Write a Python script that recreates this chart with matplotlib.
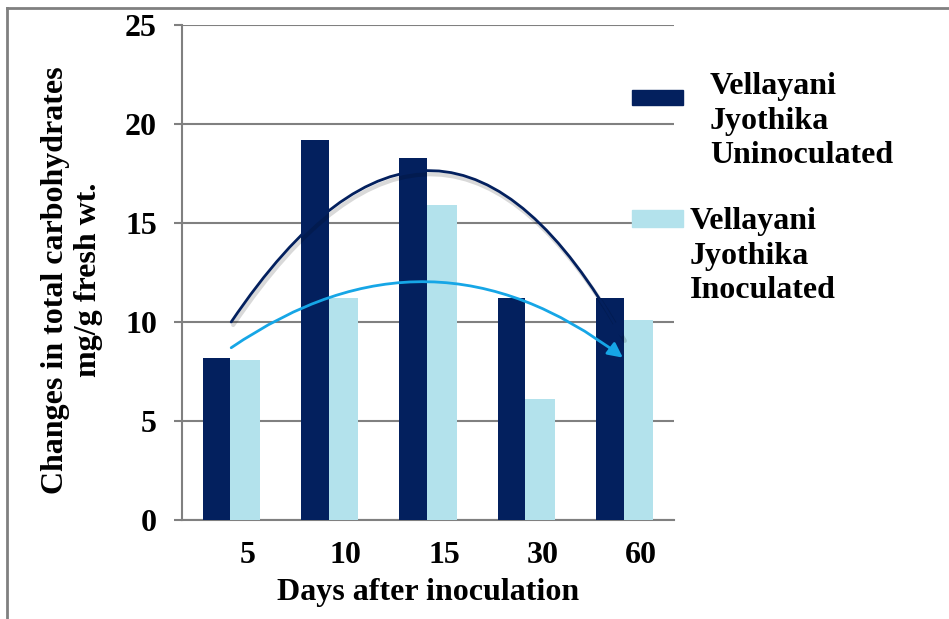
import numpy as np
import matplotlib.pyplot as plt
from matplotlib.lines import Line2D
from matplotlib.patches import Rectangle
from matplotlib.transforms import ScaledTranslation

# data
days = ["5", "10", "15", "30", "60"]
uninoculated = [8.2, 19.2, 18.3, 11.2, 11.2]
inoculated = [8.1, 11.2, 15.9, 6.1, 10.1]
yticks = [0, 5, 10, 15, 20, 25]

# hand drawn trend arrows (start, end in data units)
dark_arrow = [(0.0, 10.0), (3.98, 9.2)]
light_arrow = [(0.0, 8.7), (3.98, 8.2)]

dark = "#03205E"
light = "#B3E2EC"
sky = "#16A6E6"
grey = "#808080"

plt.rcParams["font.family"] = ["Liberation Serif", "DejaVu Serif"]
plt.rcParams["font.weight"] = "bold"

fig = plt.figure(figsize=(9.49, 6.19), dpi=100)
ax = fig.add_axes([182 / 949, 1 - 520 / 619, 492 / 949, 495 / 619])

x = np.arange(len(days))
ax.bar(x - 0.15, uninoculated, width=0.28, color=dark, zorder=3)
ax.bar(x + 0.14, inoculated, width=0.30, color=light, zorder=3)

ax.set_xlim(-0.5, len(days) - 0.5)
ax.set_ylim(0, 25)
ax.set_yticks(yticks)
ax.yaxis.grid(True, color=grey, linewidth=1.5, zorder=0)
ax.set_axisbelow(True)
for s in ["top", "right"]:
    ax.spines[s].set_visible(False)
for s in ["left", "bottom"]:
    ax.spines[s].set_color(grey)
    ax.spines[s].set_linewidth(1.5)
ax.tick_params(axis="y", length=6, width=1.5, color=grey, pad=12, labelsize=23)
ax.tick_params(axis="x", length=0, pad=15, labelsize=23)
ax.set_xticks(x)
ax.set_xticklabels(days, fontweight="bold")
for lab in ax.get_xticklabels():
    lab.set_transform(lab.get_transform() + ScaledTranslation(16 / 100, 0, fig.dpi_scale_trans))
for lab in ax.get_yticklabels():
    lab.set_fontweight("bold")

ax.set_xlabel("Days after inoculation", fontsize=23, fontweight="bold", labelpad=6)
fig.text(72 / 949, 1 - 280 / 619, "Changes in total carbohydrates\nmg/g fresh wt.",
         rotation=90, ha="center", va="center", multialignment="center",
         fontsize=23, fontweight="bold", linespacing=1.22)

# curved arrows, the dark one with a soft shadow underneath
shadow = ax.annotate("", xy=dark_arrow[1], xytext=dark_arrow[0],
                     arrowprops=dict(arrowstyle="-", color="black", lw=3, alpha=0.15,
                                     shrinkA=0, shrinkB=0,
                                     connectionstyle="arc3,rad=-0.81"),
                     zorder=4, annotation_clip=False)
shadow.arrow_patch.set_transform(shadow.arrow_patch.get_transform()
                                 + ScaledTranslation(2 / 100, -3 / 100, fig.dpi_scale_trans))
ax.annotate("", xy=dark_arrow[1], xytext=dark_arrow[0],
            arrowprops=dict(arrowstyle="-|>", color=dark, lw=2,
                            mutation_scale=22, shrinkA=0, shrinkB=0,
                            connectionstyle="arc3,rad=-0.81"),
            zorder=5, annotation_clip=False)
ax.annotate("", xy=light_arrow[1], xytext=light_arrow[0],
            arrowprops=dict(arrowstyle="-|>", color=sky, lw=2,
                            mutation_scale=22, shrinkA=0, shrinkB=0,
                            connectionstyle="arc3,rad=-0.36"),
            zorder=5, annotation_clip=False)

# legend drawn by hand, like the original
fig.patches.append(Rectangle((632 / 949, 1 - 105 / 619), 51 / 949, 15 / 619,
                             transform=fig.transFigure, color=dark, zorder=6))
fig.text(710 / 949, 1 - 72 / 619, "Vellayani\nJyothika\nUninoculated",
         ha="left", va="top", fontsize=23, fontweight="bold", linespacing=1.26)
fig.patches.append(Rectangle((632 / 949, 1 - 227 / 619), 51 / 949, 17 / 619,
                             transform=fig.transFigure, color=light, zorder=6))
fig.text(690 / 949, 1 - 207 / 619, "Vellayani\nJyothika\nInoculated",
         ha="left", va="top", fontsize=23, fontweight="bold", linespacing=1.26)

# outer frame
fig.add_artist(Line2D([7 / 949, 7 / 949], [0, 1 - 8 / 619], color=grey, lw=2, transform=fig.transFigure))
fig.add_artist(Line2D([7 / 949, 1], [1 - 8 / 619, 1 - 8 / 619], color=grey, lw=2, transform=fig.transFigure))

fig.savefig("out.png", dpi=100)
